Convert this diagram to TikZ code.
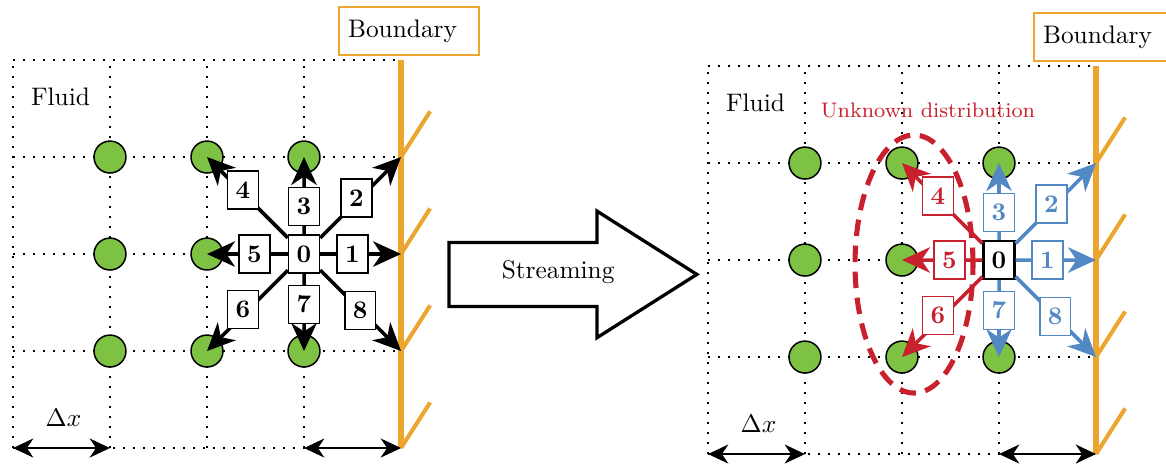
\documentclass[tikz,border=0pt]{standalone}
\usepackage{tikz}
\usetikzlibrary{calc,arrows.meta}
\usepackage{amsmath}

\definecolor{fluidgreen}{RGB}{125,194,66}
\definecolor{wallorange}{RGB}{236,166,48}
\definecolor{unkred}{RGB}{200,32,45}
\definecolor{knownblue}{RGB}{82,137,196}

\tikzset{
  lattice/.style={line width=0.8pt, dash pattern=on 0.8pt off 3.15pt},
  fluidnode/.style={draw, circle, fill=fluidgreen, line width=0.6pt, minimum size=12.6pt, inner sep=0pt},
  dirlabel/.style={draw, fill=white, line width=0.6pt, minimum width=12.2pt, minimum height=15pt, inner sep=0pt, font=\bfseries},
  wall/.style={wallorange, line width=2.6pt},
  hatch/.style={wallorange, line width=1.6pt},
  wallbox/.style={draw=wallorange, line width=0.8pt, text width=48pt, align=left, inner xsep=3.6pt, minimum height=19pt},
  dirarrow/.style={->, line width=1.4pt, >={Stealth[length=11pt, width=10pt, inset=3.3pt]}},
  spacing/.style={<->, line width=0.8pt, >={Stealth[length=8pt, width=7.5pt, inset=2.5pt]}},
}

\begin{document}
\begin{tikzpicture}[scale=1.345]
\useasboundingbox (-0.134, -0.196) rectangle (11.887, 4.619);

% before streaming
\draw [lattice] (0, 0) grid (4, 4);
\coordinate (LB0) at (4, 0);
\coordinate (LB1) at (4, 1);
\coordinate (LB2) at (4, 2);
\coordinate (LB3) at (4, 3);
\coordinate (LB4) at (4, 4);
\draw [wall] (LB0) -- (LB4);
\draw [hatch] (LB0) -- ++(0.3, 0.47);
\draw [hatch] (LB1) -- ++(0.3, 0.47);
\draw [hatch] (LB2) -- ++(0.3, 0.47);
\draw [hatch] (LB3) -- ++(0.3, 0.47);

\node [fluidnode] (L11) at (1, 1) {};
\node [fluidnode] (L12) at (1, 2) {};
\node [fluidnode] (L13) at (1, 3) {};
\node [fluidnode] (L21) at (2, 1) {};
\node [fluidnode] (L22) at (2, 2) {};
\node [fluidnode] (L23) at (2, 3) {};
\node [fluidnode] (L31) at (3, 1) {};
\node [fluidnode] (L33) at (3, 3) {};
\node [dirlabel] (L0) at (3, 2) {0};

\draw [dirarrow] (L0) -- (LB2);
\draw [dirarrow] (L0) -- (LB3);
\draw [dirarrow] (L0) -- (L33.center);
\draw [dirarrow] (L0) -- (L23.center);
\draw [dirarrow] (L0) -- (L22.center);
\draw [dirarrow] (L0) -- (L21.center);
\draw [dirarrow] (L0) -- (L31.center);
\draw [dirarrow] (L0) -- (LB1);

\node [dirlabel] (L1) at (3.5, 2) {1};
\node [dirlabel] (L2) at (3.54, 2.58) {2};
\node [dirlabel] (L3) at (3, 2.49) {3};
\node [dirlabel] (L4) at (2.37, 2.66) {4};
\node [dirlabel] (L5) at (2.49, 2) {5};
\node [dirlabel] (L6) at (2.37, 1.43) {6};
\node [dirlabel] (L7) at (3, 1.48) {7};
\node [dirlabel] (L8) at (3.58, 1.42) {8};

\node (Lfluid) at (0.49, 3.62) {Fluid};
\node [wallbox] (Lwall) at (4.082, 4.30) {Boundary};
\node (Ldx) at (0.52, 0.31) {$\Delta x$};
\coordinate (L00) at (0, 0);
\coordinate (L10) at (1, 0);
\coordinate (L30) at (3, 0);
\draw [spacing] (L00) -- (L10);
\draw [spacing] (L30) -- (LB0);

% streaming
\draw [line width=1.3pt] (4.495, 2.12) -- (6.02, 2.12) -- (6.02, 2.443) -- (7.05, 1.79)
  -- (6.02, 1.137) -- (6.02, 1.46) -- (4.495, 1.46) -- cycle;
\node (stream) at (5.62, 1.81) {Streaming};

% after streaming
\begin{scope}[shift={(7.165, -0.062)}]
\draw [lattice] (0, 0) grid (4, 4);
\coordinate (RB0) at (4, 0);
\coordinate (RB1) at (4, 1);
\coordinate (RB2) at (4, 2);
\coordinate (RB3) at (4, 3);
\coordinate (RB4) at (4, 4);
\draw [wall] (RB0) -- (RB4);
\draw [hatch] (RB0) -- ++(0.3, 0.47);
\draw [hatch] (RB1) -- ++(0.3, 0.47);
\draw [hatch] (RB2) -- ++(0.3, 0.47);
\draw [hatch] (RB3) -- ++(0.3, 0.47);

\node [fluidnode] (R11) at (1, 1) {};
\node [fluidnode] (R12) at (1, 2) {};
\node [fluidnode] (R13) at (1, 3) {};
\node [fluidnode] (R21) at (2, 1) {};
\node [fluidnode] (R22) at (2, 2) {};
\node [fluidnode] (R23) at (2, 3) {};
\node [fluidnode] (R31) at (3, 1) {};
\node [fluidnode] (R33) at (3, 3) {};
\node [dirlabel, line width=0.9pt] (R0) at (3, 2) {0};

\draw [dirarrow, knownblue] (R0) -- (RB2);
\draw [dirarrow, knownblue] (R0) -- (RB3);
\draw [dirarrow, knownblue] (R0) -- (R33.center);
\draw [dirarrow, unkred] (R0) -- (R23.center);
\draw [dirarrow, unkred] (R0) -- (R22.center);
\draw [dirarrow, unkred] (R0) -- (R21.center);
\draw [dirarrow, knownblue] (R0) -- (R31.center);
\draw [dirarrow, knownblue] (R0) -- (RB1);

\node [dirlabel, draw=knownblue, text=knownblue] (R1) at (3.5, 2) {1};
\node [dirlabel, draw=knownblue, text=knownblue] (R2) at (3.54, 2.58) {2};
\node [dirlabel, draw=knownblue, text=knownblue] (R3) at (3, 2.49) {3};
\node [dirlabel, draw=unkred, text=unkred] (R4) at (2.37, 2.66) {4};
\node [dirlabel, draw=unkred, text=unkred] (R5) at (2.49, 2) {5};
\node [dirlabel, draw=unkred, text=unkred] (R6) at (2.37, 1.43) {6};
\node [dirlabel, draw=knownblue, text=knownblue] (R7) at (3, 1.48) {7};
\node [dirlabel, draw=knownblue, text=knownblue] (R8) at (3.58, 1.42) {8};

\draw [unkred, line width=2pt, dash pattern=on 6.5pt off 3.8pt] (2.124, 1.959) ellipse [x radius=0.608, y radius=1.33];
\node [unkred, font=\fontsize{8.3}{10}\selectfont] (Runknown) at (2.268, 3.546) {Unknown distribution};

\node (Rfluid) at (0.49, 3.62) {Fluid};
\node [wallbox] (Rwall) at (4.082, 4.30) {Boundary};
\node (Rdx) at (0.52, 0.31) {$\Delta x$};
\coordinate (R00) at (0, 0);
\coordinate (R10) at (1, 0);
\coordinate (R30) at (3, 0);
\draw [spacing] (R00) -- (R10);
\draw [spacing] (R30) -- (RB0);
\end{scope}
\end{tikzpicture}
\end{document}
